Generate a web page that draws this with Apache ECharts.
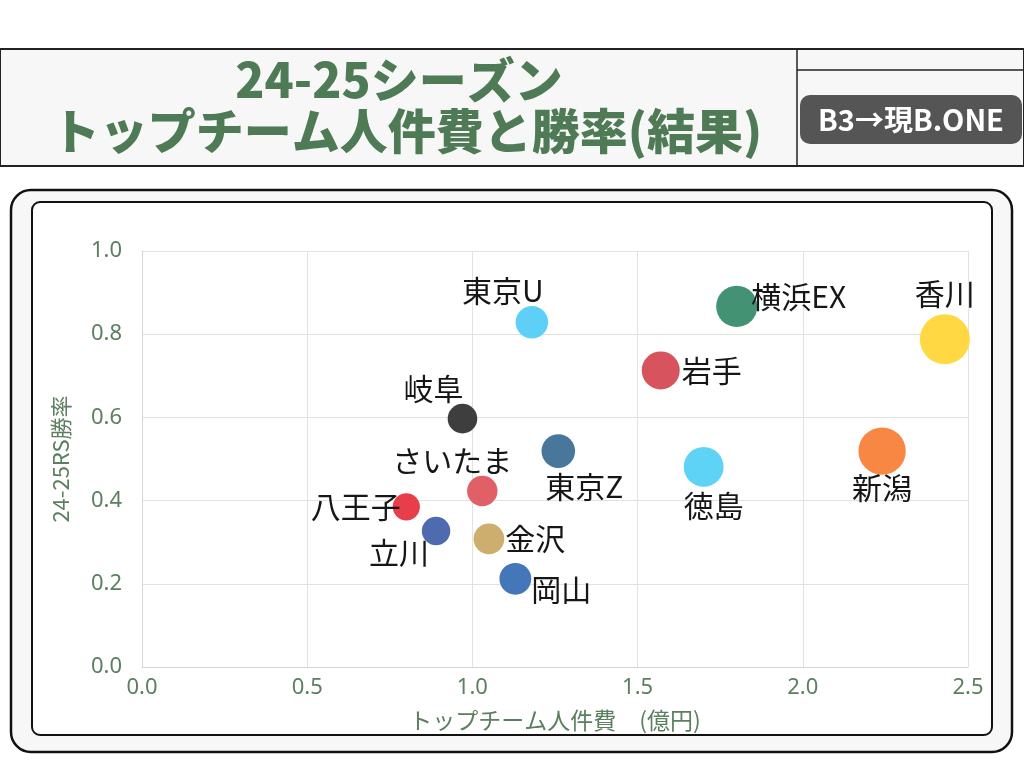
<!DOCTYPE html>
<html>
<head>
<meta charset="utf-8">
<script src="https://cdn.jsdelivr.net/npm/echarts@6/dist/echarts.min.js"></script>
<style>
  html, body { margin: 0; padding: 0; background: #fff; }
  #chart { width: 1024px; height: 768px; }
</style>
</head>
<body>
<div id="chart"></div>
<script>
// チーム名
var teams = ['東京U', '横浜EX', '香川', '岩手', '岐阜', '東京Z', '徳島', '新潟', 'さいたま', '八王子', '立川', '金沢', '岡山'];
// トップチーム人件費（億円）
var payroll = [1.18, 1.80, 2.43, 1.57, 0.97, 1.26, 1.70, 2.24, 1.03, 0.80, 0.89, 1.05, 1.13];
// 24-25RS勝率
var winRate = [0.829, 0.867, 0.788, 0.713, 0.597, 0.519, 0.481, 0.519, 0.423, 0.385, 0.327, 0.308, 0.212];
var xTicks = [0, 0.5, 1.0, 1.5, 2.0, 2.5];
var yTicks = [0, 0.2, 0.4, 0.6, 0.8, 1.0];

var colors = ['#5BCFF8', '#3F9070', '#FFD740', '#D6505A', '#3A3A3A', '#447499', '#5BD2F5',
              '#F98540', '#E05C64', '#E83A48', '#4A68AE', '#CCAC6C', '#3F74B8'];
// ラベル位置
var labelPos = {
  '東京U':   { position: 'top', distance: 0, offset: [-29, 0] },
  '横浜EX':  { position: 'right', distance: -6, offset: [0, -10] },
  '香川':    { position: 'top', distance: 6, offset: [0, 0] },
  '岩手':    { position: 'right', distance: 2, offset: [0, 0] },
  '岐阜':    { position: 'top', distance: 0, offset: [-29, 0] },
  '東京Z':   { position: 'bottom', distance: 4, offset: [26, 0] },
  '徳島':    { position: 'bottom', distance: 4, offset: [10, 0] },
  '新潟':    { position: 'bottom', distance: -2, offset: [0, 0] },
  'さいたま': { position: 'top', distance: 0, offset: [-30, 0] },
  '八王子':  { position: 'left', distance: -8, offset: [0, 0] },
  '立川':    { position: 'bottom', distance: -8, offset: [-37, 0] },
  '金沢':    { position: 'right', distance: 1, offset: [0, 0] },
  '岡山':    { position: 'right', distance: 0, offset: [0, 11] }
};

var green = '#5B7F5F';
var chart = echarts.init(document.getElementById('chart'));

var points = teams.map(function (t, i) {
  return {
    name: t,
    value: [payroll[i], winRate[i]],
    symbolSize: 16 + 14 * payroll[i],
    itemStyle: { color: colors[i], opacity: 0.98 },
    label: Object.assign({ show: true, formatter: t }, labelPos[t])
  };
});

var option = {
  animation: false,
  textStyle: { fontFamily: 'Noto Sans CJK JP' },
  graphic: [
    // ヘッダー帯
    { type: 'rect', z: -10, shape: { x: 0, y: 49, width: 1024, height: 117 },
      style: { fill: '#F7F7F7', stroke: '#222', lineWidth: 2 } },
    { type: 'line', z: -9, shape: { x1: 797, y1: 49, x2: 797, y2: 166 }, style: { stroke: '#222', lineWidth: 1.5 } },
    { type: 'line', z: -9, shape: { x1: 797, y1: 70, x2: 1024, y2: 70 }, style: { stroke: '#222', lineWidth: 1.5 } },
    { type: 'text', z: 10, x: 399, y: 80, style: {
        text: '24-25シーズン', fill: '#4E7A55', font: '900 48px "Noto Sans CJK JP"',
        align: 'center', verticalAlign: 'middle' } },
    { type: 'text', z: 10, x: 407, y: 131, style: {
        text: 'トップチーム人件費と勝率(結果)', fill: '#4E7A55', font: '900 48px "Noto Sans CJK JP"',
        align: 'center', verticalAlign: 'middle' } },
    { type: 'rect', z: -9, shape: { x: 800, y: 95, width: 222, height: 49, r: 10 }, style: { fill: '#555555' } },
    { type: 'text', z: 10, x: 911, y: 120, style: {
        text: 'B3→現B.ONE', fill: '#fff', font: 'bold 29px "Noto Sans CJK JP"',
        align: 'center', verticalAlign: 'middle' } },
    // 外枠
    { type: 'rect', z: -10, shape: { x: 11, y: 190, width: 1001, height: 562, r: 20 },
      style: { fill: '#F7F7F7', stroke: '#111', lineWidth: 2.5 } },
    { type: 'rect', z: -9, shape: { x: 32, y: 202, width: 960, height: 533, r: 8 },
      style: { fill: '#fff', stroke: '#111', lineWidth: 2 } }
  ],
  grid: { left: 142, right: 56, top: 251, bottom: 101 },
  xAxis: {
    type: 'value', min: xTicks[0], max: xTicks[xTicks.length - 1], interval: 0.5,
    name: 'トップチーム人件費　(億円)', nameLocation: 'middle', nameGap: 42,
    nameTextStyle: { color: green, fontSize: 23 },
    axisLine: { lineStyle: { color: '#D0DAD1' } },
    axisTick: { show: false },
    axisLabel: { color: green, fontSize: 22, fontFamily: 'Noto Sans', margin: 10,
      formatter: function (v) { return v.toFixed(1); } },
    splitLine: { lineStyle: { color: '#DDE5DD' } }
  },
  yAxis: {
    type: 'value', min: yTicks[0], max: yTicks[yTicks.length - 1], interval: 0.2,
    name: '24-25RS勝率', nameLocation: 'middle', nameGap: 70,
    nameTextStyle: { color: green, fontSize: 22 },
    axisLine: { show: true, lineStyle: { color: '#D0DAD1' } },
    axisTick: { show: false },
    axisLabel: { color: green, fontSize: 22, fontFamily: 'Noto Sans', margin: 20,
      formatter: function (v) { return v.toFixed(1); } },
    splitLine: { lineStyle: { color: '#DDE5DD' } }
  },
  series: [{
    type: 'scatter',
    data: points,
    label: { color: '#111', fontSize: 30, fontFamily: 'Noto Sans CJK JP' },
    emphasis: { disabled: true }
  }]
};
chart.setOption(option);
</script>
</body>
</html>
